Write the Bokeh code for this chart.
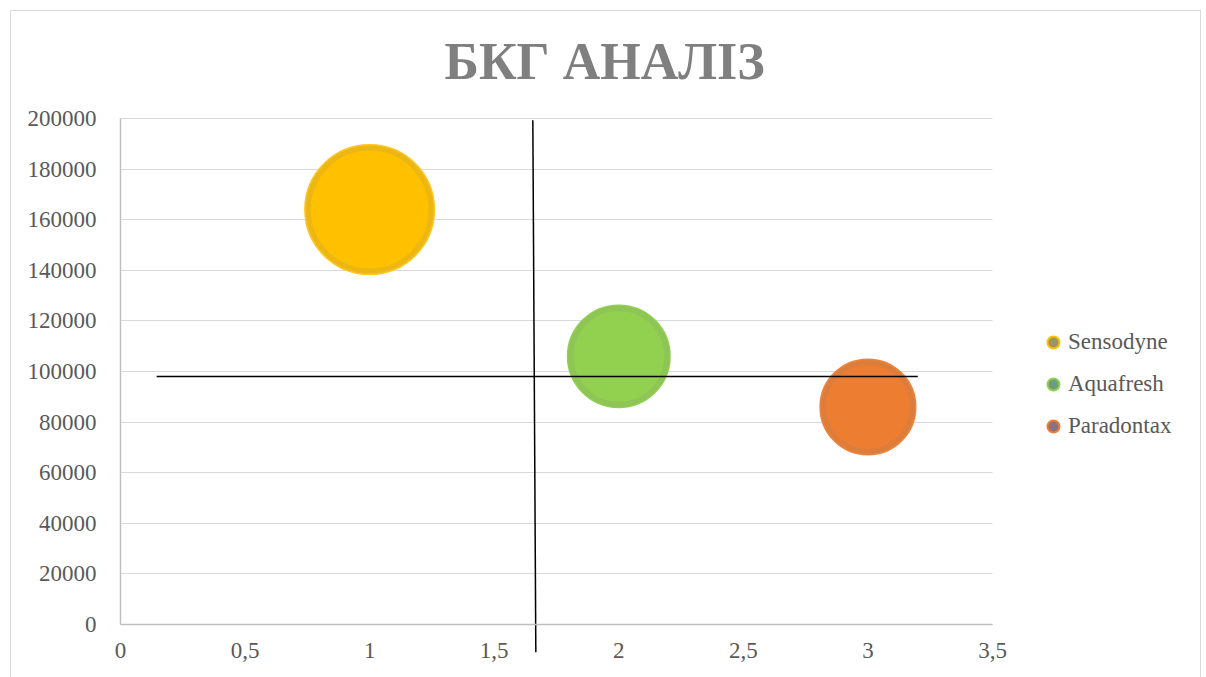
from bokeh.plotting import figure
from bokeh.models import (Range1d, FixedTicker, CustomJSTickFormatter, Legend, LegendItem,
                          ColumnDataSource)
from bokeh.embed import file_html
from bokeh.resources import INLINE
import math

# ---- data ----
brands = ["Sensodyne", "Aquafresh", "Paradontax"]
x_vals = [1, 2, 3]
y_vals = [164000, 106000, 86000]
bubble_sizes = [41.6, 26.0, 22.6]
fill_colors = ["#FFC000", "#92D050", "#ED7D31"]
edge_colors = ["#FFC51A", "#8FD14F", "#EF8238"]
legend_fill = ["#9C9466", "#6E9C7E", "#8E7180"]

x_ticks = [0, 0.5, 1, 1.5, 2, 2.5, 3, 3.5]
y_ticks = [0, 20000, 40000, 60000, 80000, 100000, 120000, 140000, 160000, 180000, 200000]
X_MAX = 3.5
Y_MAX = 200000

# quadrant divider lines (data units)
hline_x = [0.145, 3.2]
hline_y = 98000
vline_x = [1.655, 1.667]
vline_y = [199300, -11000]

# ---- layout (pixels, figure coordinates) ----
FIG_W, FIG_H = 1191, 667
TOP = 92                       # frame top
AX_X0, AX_Y_TOP = 109, 107     # pixel of x=0 and of y=200000
AXIS_W, AXIS_H = 872, 506      # pixel span of 0..3.5 and 0..200000
px_x = X_MAX / AXIS_W
px_y = Y_MAX / AXIS_H
x_start = -AX_X0 * px_x
x_end = (FIG_W - AX_X0) * px_x
y_end = Y_MAX + (AX_Y_TOP - TOP) * px_y
y_start = -(FIG_H - (AX_Y_TOP + AXIS_H)) * px_y

MAX_R = 64.5  # px radius of largest bubble
radii = [MAX_R * math.sqrt(s / max(bubble_sizes)) for s in bubble_sizes]

FONT = "Liberation Serif"
TXT = "#595959"

p = figure(width=FIG_W, height=FIG_H, output_backend="svg", toolbar_location=None,
           x_range=Range1d(x_start, x_end), y_range=Range1d(y_start, y_end),
           min_border_left=0, min_border_right=0, min_border_bottom=0,
           min_border_top=TOP)
p.margin = (10, 0, 0, 10)
p.styles = {"border-top": "1px solid #d9d9d9", "border-left": "1px solid #d9d9d9",
            "border-right": "1px solid #d9d9d9", "box-sizing": "border-box"}

p.title.text = "БКГ АНАЛІЗ"
p.title.text_font = FONT
p.title.text_font_size = "52px"
p.title.text_font_style = "bold"
p.title.text_color = "#7F7F7F"
p.title.align = "left"
p.title.offset = 433
p.title.standoff = 28

p.outline_line_color = None
p.xgrid.grid_line_color = None
p.ygrid.grid_line_color = "#D9D9D9"
p.ygrid.grid_line_width = 1
p.ygrid.ticker = FixedTicker(ticks=y_ticks)
p.ygrid.cross_bounds = (0, X_MAX)

p.xaxis.ticker = FixedTicker(ticks=x_ticks)
p.yaxis.ticker = FixedTicker(ticks=y_ticks)
p.xaxis.formatter = CustomJSTickFormatter(code="return tick.toString().replace('.', ',');")
p.yaxis.formatter = CustomJSTickFormatter(code="return tick.toFixed(0);")
p.xaxis.fixed_location = 0
p.yaxis.fixed_location = 0
p.xaxis.bounds = (0, X_MAX)
p.yaxis.bounds = (0, Y_MAX)
for ax in (p.xaxis, p.yaxis):
    ax.axis_line_color = "#BFBFBF"
    ax.axis_line_width = 1.5
    ax.major_tick_line_color = None
    ax.minor_tick_line_color = None
    ax.major_label_text_font = FONT
    ax.major_label_text_font_size = "23px"
    ax.major_label_text_color = TXT
p.xaxis.major_label_standoff = 12
p.yaxis.major_label_standoff = 18

# legend glyph renderers (hidden beneath the bubbles)
items = []
for i, (b, lf, ec) in enumerate(zip(brands, legend_fill, fill_colors)):
    r = p.scatter(x=[x_vals[i]], y=[y_vals[i]], marker="circle", size=11, fill_color=lf,
                  line_color=ec, line_width=2)
    items.append(LegendItem(label=b, renderers=[r]))

src = ColumnDataSource(dict(x=x_vals, y=y_vals, r=radii, fill=fill_colors, edge=edge_colors,
                            r_in=[r - 3 for r in radii]))
p.circle(x="x", y="y", radius="r", radius_units="screen", fill_color="fill",
         line_color="edge", line_width=2, source=src)
p.circle(x="x", y="y", radius="r_in", radius_units="screen", fill_color=None,
         line_color="#7F7F7F", line_alpha=0.15, line_width=5, source=src)

# quadrant lines
p.segment(x0=hline_x[0], y0=hline_y, x1=hline_x[1], y1=hline_y, line_color="black", line_width=1.5)
p.segment(x0=vline_x[0], y0=vline_y[0], x1=vline_x[1], y1=vline_y[1], line_color="black", line_width=1.5)

legend = Legend(items=items, location=(1027, 237), border_line_color=None,
                background_fill_alpha=0, label_text_font=FONT, label_text_font_size="23px",
                label_text_color=TXT, glyph_width=30, glyph_height=30, label_height=28,
                label_standoff=0, spacing=12, padding=10, margin=0)
p.add_layout(legend, "center")

open("out.html", "w").write(file_html(p, INLINE))
